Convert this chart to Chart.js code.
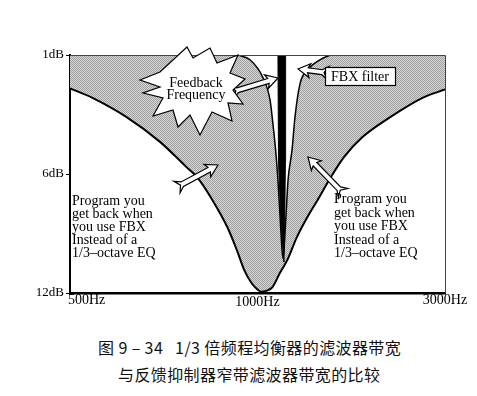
<!DOCTYPE html>
<html>
<head>
<meta charset="utf-8">
<script src="https://cdn.jsdelivr.net/npm/chart.js@4"></script>
<style>
  html, body { margin: 0; padding: 0; background: #fff; }
  #wrap { position: relative; width: 477px; height: 396px; }
  #chart { position: absolute; left: 0; top: 0; }
  .caption {
    position: absolute;
    font-family: "Noto Sans CJK SC", sans-serif;
    font-size: 16px;
    line-height: 16px;
    color: #111;
    white-space: pre;
    letter-spacing: 0.4px;
  }
</style>
</head>
<body>
<div id="wrap">
  <canvas id="chart" width="477" height="320"></canvas>
  <div class="caption" style="left:98px; top:339px;">图 9 – 34   1/3 倍频程均衡器的滤波器带宽</div>
  <div class="caption" style="left:118px; top:366px;">与反馈抑制器窄带滤波器带宽的比较</div>
</div>
<script>
// Axis ticks (x: 500Hz / 1000Hz / 3000Hz, y: 1dB / 6dB / 12dB, equally spaced)
const xTickValues = [0, 1, 2];
const xTickLabels = ['500Hz', '1000Hz', '3000Hz'];
const yTickLabels = ['1dB', '6dB', '12dB'];

// 1/3-octave EQ response (depth in tick units: 0 = 1dB, 1 = 6dB, 2 = 12dB)
const eqX = [0, 0.12, 0.30, 0.48, 0.62, 0.68, 0.76, 0.84, 0.89, 0.93, 0.97, 1.0, 1.02, 1.05, 1.08, 1.12, 1.16, 1.21, 1.27, 1.32, 1.39, 1.46, 1.56, 1.71, 1.88, 2.0];
const eqDepth = [0.28, 0.36, 0.52, 0.73, 0.94, 1.03, 1.22, 1.45, 1.64, 1.81, 1.92, 1.97, 1.99, 1.98, 1.95, 1.83, 1.72, 1.53, 1.35, 1.22, 1.03, 0.86, 0.69, 0.52, 0.36, 0.29];

// FBX notch outline
const fbxX = [0.896, 0.96, 1.029, 1.067, 1.083, 1.099, 1.109, 1.12, 1.131, 1.136, 1.141, 1.152, 1.163, 1.184, 1.2, 1.227, 1.264, 1.333, 1.387];
const fbxDepth = [0, 0.04, 0.19, 0.38, 0.59, 0.84, 1.05, 1.35, 1.64, 1.71, 1.64, 1.35, 1.05, 0.80, 0.52, 0.24, 0.13, 0.04, 0];

// FBX filter itself (narrow black wedge)
const barX = [1.109, 1.112, 1.125, 1.141, 1.145, 1.149, 1.150];
const barDepth = [0, 0.9, 1.4, 1.74, 1.4, 0.9, 0];

const noteLines = ['Program you', 'get back when', 'you use FBX', 'Instead of a', '1/3–octave EQ'];

const SERIF = '"Liberation Serif", "Times New Roman", serif';

function toPoints(xs, ys) {
    return xs.map((x, i) => ({ x: x, y: ys[i] }));
}

// halftone-like grey used in the printed figure
function makeScreen(ctx) {
    const c = document.createElement('canvas');
    c.width = 2; c.height = 2;
    const g = c.getContext('2d');
    g.fillStyle = '#d8d8d8';
    g.fillRect(0, 0, 2, 2);
    g.fillStyle = '#9e9e9e';
    g.fillRect(0, 0, 1, 1);
    g.fillRect(1, 1, 1, 1);
    return ctx.createPattern(c, 'repeat');
}

function drawArrow(ctx, x0, y0, x1, y1) {
    const dx = x1 - x0, dy = y1 - y0;
    const len = Math.hypot(dx, dy);
    const ux = dx / len, uy = dy / len, vx = -uy, vy = ux;
    const w = 2.5, L = 12, H = 7;
    const pts = [[len, 0], [len - L, H], [len - L + 2, w], [6, w], [0, w + 4], [4, 0],
                 [0, -w - 4], [6, -w], [len - L + 2, -w], [len - L, -H]];
    ctx.beginPath();
    pts.forEach(([u, v], i) => {
        const px = x0 + ux * u + vx * v, py = y0 + uy * u + vy * v;
        if (i) ctx.lineTo(px, py); else ctx.moveTo(px, py);
    });
    ctx.closePath();
    ctx.fillStyle = '#fff';
    ctx.fill();
    ctx.strokeStyle = '#000';
    ctx.lineWidth = 1.2;
    ctx.stroke();
}

const notesPlugin = {
    id: 'notes',
    afterDraw(chart) {
        const ctx = chart.ctx;
        const a = chart.chartArea;
        const xs = chart.scales.x;
        ctx.save();

        // thin top / right frame
        ctx.strokeStyle = '#444';
        ctx.lineWidth = 1;
        ctx.beginPath();
        ctx.moveTo(a.left, a.top + 0.5);
        ctx.lineTo(a.right + 0.5, a.top + 0.5);
        ctx.lineTo(a.right + 0.5, a.bottom);
        ctx.stroke();

        // x labels: first one starts at the origin, the others are centred
        ctx.fillStyle = '#000';
        ctx.font = '14px ' + SERIF;
        ctx.textBaseline = 'alphabetic';
        xTickValues.forEach((v, i) => {
            const px = xs.getPixelForValue(v);
            ctx.textAlign = i === 0 ? 'left' : 'center';
            ctx.fillText(xTickLabels[i], i === 0 ? px - 2 : px, a.bottom + (i === 1 ? 13 : 11));
        });

        // arrows
        drawArrow(ctx, 232, 92, 278, 78);
        drawArrow(ctx, 328, 73, 298, 69);
        drawArrow(ctx, 177, 187, 218, 165);
        drawArrow(ctx, 343, 193, 308, 157);

        // "Feedback Frequency" starburst
        const star = [[140, 80], [160, 72], [187, 47], [193, 58], [210, 48], [217, 63], [238, 55], [230, 73],
                      [245, 79], [233, 90], [243, 104], [228, 103], [232, 121], [212, 112], [200, 135],
                      [190, 115], [178, 127], [173, 110], [153, 116], [163, 98], [143, 93], [160, 87]];
        ctx.beginPath();
        star.forEach(([x, y], i) => { if (i) ctx.lineTo(x, y); else ctx.moveTo(x, y); });
        ctx.closePath();
        ctx.fillStyle = '#fff';
        ctx.fill();
        ctx.strokeStyle = '#000';
        ctx.lineWidth = 1.2;
        ctx.stroke();

        ctx.fillStyle = '#000';
        ctx.textAlign = 'center';
        ctx.fillText('Feedback', 196, 87);
        ctx.fillText('Frequency', 196, 99);

        // FBX filter box
        ctx.fillStyle = '#fff';
        ctx.fillRect(325, 67, 70, 18);
        ctx.strokeRect(325.5, 67.5, 70, 18);
        ctx.fillStyle = '#000';
        ctx.fillText('FBX filter', 360, 81);

        // the two "program you get back" notes
        ctx.textAlign = 'left';
        noteLines.forEach((t, i) => {
            ctx.fillText(t, 72, 205 + i * 13);
            ctx.fillText(t, 334, 203 + i * 13.5);
        });

        ctx.restore();
    }
};

const canvas = document.getElementById('chart');
const screenGrey = makeScreen(canvas.getContext('2d'));

new Chart(canvas, {
    type: 'line',
    data: {
        datasets: [
            {
                label: 'FBX filter',
                data: toPoints(barX, barDepth),
                borderColor: '#000',
                backgroundColor: '#000',
                borderWidth: 1,
                fill: 'end',
                tension: 0,
                pointRadius: 0,
                order: 1
            },
            {
                label: 'FBX notch',
                data: toPoints(fbxX, fbxDepth),
                borderColor: '#000',
                backgroundColor: '#fff',
                borderWidth: 1.5,
                fill: 'end',
                cubicInterpolationMode: 'monotone',
                pointRadius: 0,
                order: 2
            },
            {
                label: '1/3-octave EQ',
                data: toPoints(eqX, eqDepth),
                borderColor: '#000',
                backgroundColor: screenGrey,
                borderWidth: 2,
                fill: 'end',
                cubicInterpolationMode: 'monotone',
                pointRadius: 0,
                order: 3
            }
        ]
    },
    options: {
        responsive: false,
        animation: false,
        layout: { padding: { left: 0, top: 55, right: 32, bottom: 0 } },
        plugins: {
            legend: { display: false },
            tooltip: { enabled: false }
        },
        scales: {
            x: {
                type: 'linear',
                min: 0,
                max: 2,
                grid: { display: false },
                ticks: { display: false },
                border: { display: true, color: '#000', width: 2.5 },
                afterFit: function(scale) { scale.height = 27; }
            },
            y: {
                type: 'linear',
                reverse: true,
                min: 0,
                max: 2,
                grid: {
                    drawOnChartArea: false,
                    drawTicks: true,
                    tickLength: 4,
                    color: '#000'
                },
                border: { display: true, color: '#000', width: 2 },
                ticks: {
                    stepSize: 1,
                    padding: 2,
                    color: '#000',
                    font: { family: SERIF, size: 13 },
                    callback: function(v) { return yTickLabels[v]; }
                },
                afterFit: function(scale) { scale.width = 70; }
            }
        }
    },
    plugins: [notesPlugin]
});
</script>
</body>
</html>
